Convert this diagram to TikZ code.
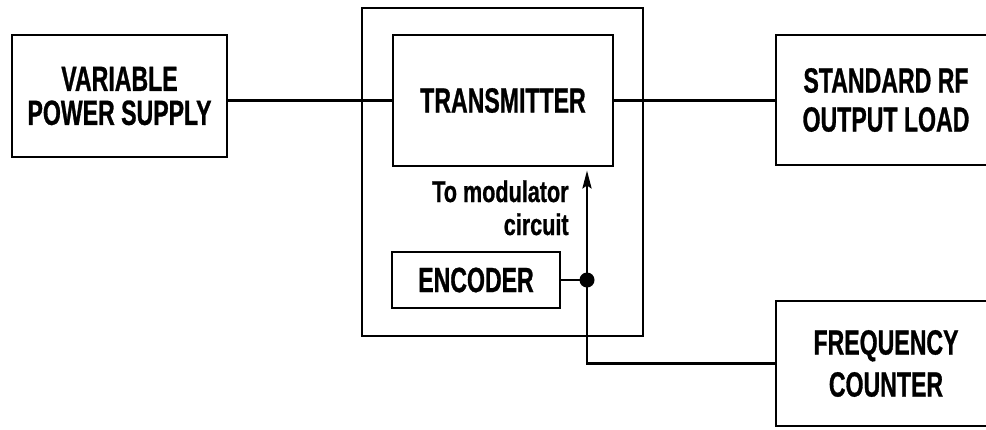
\documentclass[tikz,border=0pt]{standalone}
\usepackage{fontspec}
\newfontfamily\labfont{Liberation Sans}[FakeStretch=0.66,FakeBold=0.8]
\newfontfamily\smfont{Liberation Sans}[FakeStretch=0.72,FakeBold=0.8]
\usetikzlibrary{arrows.meta}
\begin{document}
\begin{tikzpicture}[x=1pt,y=-1pt,
  line width=2.8pt,
  lab/.style={font=\labfont\bfseries\fontsize{35}{34}\selectfont, align=center},
  blk/.style={draw, rectangle, inner sep=0pt, lab},
  small/.style={font=\smfont\bfseries\fontsize{30}{33}\selectfont, inner sep=0pt},
  uparrow/.style={-{Stealth[length=18pt,width=9pt,inset=3pt]}, shorten >=3pt}
]
\useasboundingbox (0,0) rectangle (986,429);
% outer housing
\node[draw, rectangle, inner sep=0pt, minimum width=281pt, minimum height=328pt] (outer) at (502.5,172) {};
% blocks
\node[blk, minimum width=215pt, minimum height=122pt] (vps) at (119.5,96) {VARIABLE\\POWER SUPPLY};
\node[blk, minimum width=220pt, minimum height=131pt] (tx) at (503,100.5) {TRANSMITTER};
\node[blk, minimum width=168pt, minimum height=56pt] (enc) at (476,280) {ENCODER};
\node[blk, minimum width=220pt, minimum height=130pt] (rf) at (886,100) {STANDARD RF\\[5pt]OUTPUT LOAD};
\node[blk, minimum width=220pt, minimum height=125pt] (fc) at (886,363.5) {FREQUENCY\\[8pt]COUNTER};
% labels
\node[small, anchor=base east] (mod1) at (570,202) {To modulator};
\node[small, anchor=base east] (mod2) at (570,235) {circuit};
% junction
\coordinate (dot) at (587,280);
% connectors
\draw (tx.west -| vps.east) -- (tx.west);
\draw (tx.east) -- (tx.east -| rf.west);
\draw (enc.east) -- (dot);
\draw[uparrow] (dot) -- (dot |- tx.south);
\draw (dot) |- (fc.west);
\fill (dot) circle (7.5pt);
\end{tikzpicture}
\end{document}
